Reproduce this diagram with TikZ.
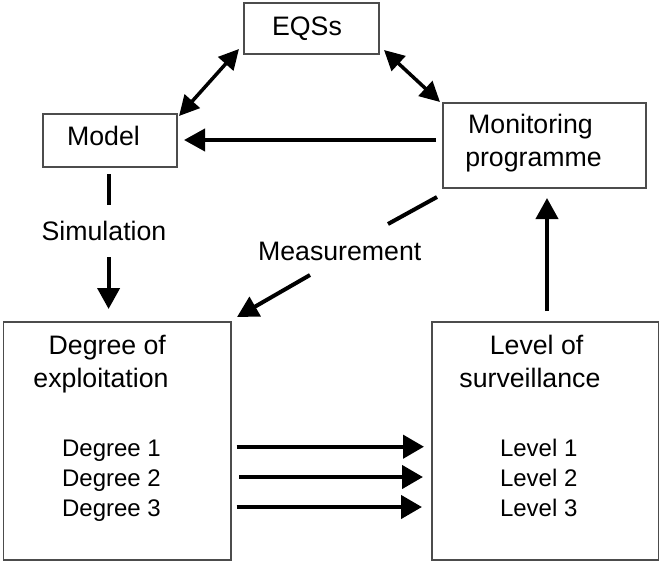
\documentclass[tikz,border=0pt]{standalone}
\usepackage{fontspec}
\setmainfont{Liberation Sans}
\usetikzlibrary{arrows.meta}
\begin{document}
\begin{tikzpicture}[x=1pt,y=-1pt,
  box/.style={draw=black!70, line width=1.1pt, inner sep=0pt, outer sep=0pt},
  big/.style={font=\fontsize{26.7}{32}\selectfont, anchor=base, inner sep=0pt},
  small/.style={font=\fontsize{24}{29}\selectfont, anchor=base, inner sep=0pt},
  arr/.style={line width=4pt, -{Triangle[length=21pt,width=22pt]}},
  harr/.style={line width=4.3pt, -{Triangle[length=21pt,width=23pt]}},
  plain/.style={line width=4pt},
  dbl/.style={line width=3.5pt, {Triangle[length=20pt,width=20pt]}-{Triangle[length=20pt,width=20pt]}}]
\useasboundingbox (0,0) rectangle (660,562);

% boxes
\node[box, minimum width=135pt, minimum height=51pt] (eqs) at (311.5,28.5) {};
\node[box, minimum width=134pt, minimum height=53pt] (model) at (110,140.5) {};
\node[box, minimum width=203pt, minimum height=85pt] (mon) at (544.5,145.5) {};
\node[box, minimum width=227.5pt, minimum height=238pt] (degree) at (117.25,441) {};
\node[box, minimum width=226.5pt, minimum height=238pt] (level) at (545.25,441) {};

% texts
\node[big] (eqst) at (307,35) {EQSs};
\node[big] (modelt) at (103.5,145) {Model};
\node[big] (mont1) at (530.5,133.3) {Monitoring};
\node[big] (mont2) at (533.5,166.7) {programme};
\node[big] (sim) at (104,240) {Simulation};
\node[big] (meas) at (339.7,260) {Measurement};

\node[big] (degt1) at (107.3,354.3) {Degree of};
\node[big] (degt2) at (101,387.3) {exploitation};
\node[small] (d1) at (111.5,456) {Degree 1};
\node[small] (d2) at (111.5,486) {Degree 2};
\node[small] (d3) at (111.5,516) {Degree 3};

\node[big] (levt1) at (536.6,354.3) {Level of};
\node[big] (levt2) at (529.9,387.3) {surveillance};
\node[small] (l1) at (538.7,456) {Level 1};
\node[small] (l2) at (538.7,486) {Level 2};
\node[small] (l3) at (538.7,516) {Level 3};

% connectors
\draw[dbl] ([shift={(-5,-5)}]eqs.south west) -- ([shift={(2,2)}]model.north east);
\draw[dbl] ([shift={(5,-4)}]eqs.south east) -- ([shift={(-3,-1)}]mon.north west);
\draw[arr] ([shift={(-7,-5.5)}]mon.west) -- ([shift={(7,-0.5)}]model.east);

\draw[plain] ([shift={(-1.4,7)}]model.south) -- ([shift={(4.6,-35)}]sim.base);
\draw[arr] ([shift={(4.6,17)}]sim.base) -- ([shift={(-8.65,-13)}]degree.north);

\draw[plain] ([shift={(-6,9)}]mon.south west) -- ([shift={(48.3,-36)}]meas.base);
\draw[arr] ([shift={(-29.7,15)}]meas.base) -- ([shift={(6,-5)}]degree.north east);

\draw[arr] ([shift={(1.75,-11)}]level.north) -- ([shift={(2.5,10)}]mon.south);

\draw[harr] ([shift={(5.5,5.7)}]degree.east) -- ([shift={(-8,5.7)}]level.west);
\draw[harr] ([shift={(8,36)}]degree.east) -- ([shift={(-9,36)}]level.west);
\draw[harr] ([shift={(5.5,66)}]degree.east) -- ([shift={(-10,66)}]level.west);
\end{tikzpicture}
\end{document}
